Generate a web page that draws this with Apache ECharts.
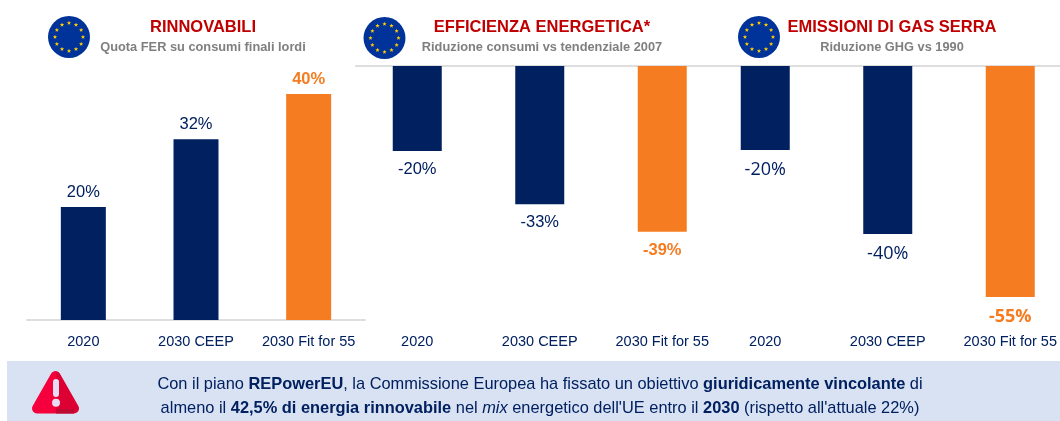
<!DOCTYPE html>
<html>
<head>
<meta charset="utf-8">
<title>Obiettivi UE 2030</title>
<script src="https://cdn.jsdelivr.net/npm/echarts@6/dist/echarts.min.js"></script>
<style>
  html, body { margin: 0; padding: 0; background: #fff; }
  #chart { width: 1060px; height: 421px; }
</style>
</head>
<body>
<div id="chart"></div>
<script>
const categories = ['2020', '2030 CEEP', '2030 Fit for 55'];
const rinnovabili = [20, 32, 40];
const rinnovabiliLabels = ['20%', '32%', '40%'];
const efficienza = [-20, -32.5, -39];
const efficienzaLabels = ['-20%', '-33%', '-39%'];
const emissioni = [-20, -40, -55];
const emissioniLabels = ['-20%', '-40%', '-55%'];

const NAVY = '#002060';
const ORANGE = '#F57C20';
const RED = '#C00000';
const GREY = '#7F7F7F';
const AXIS = '#DEDEDE';
const FONT = '"Liberation Sans", Arial, sans-serif';
const FONT_ALT = '"Open Sans", "DejaVu Sans", sans-serif';

// serie a barre di un pannello: l'ultima barra e' sempre arancione
function barSeries(values, labels, index, position, font, size, distance) {
  return {
    type: 'bar',
    xAxisIndex: index,
    yAxisIndex: index,
    barWidth: index === 0 ? 45 : 49,
    data: values.map((v, i) => {
      const last = i === values.length - 1;
      return {
        value: v,
        itemStyle: { color: last ? ORANGE : NAVY },
        label: {
          show: true,
          position: position,
          distance: distance,
          formatter: labels[i],
          fontFamily: font,
          fontSize: size,
          fontWeight: last ? 'bold' : 'normal',
          color: last ? ORANGE : NAVY
        }
      };
    })
  };
}

function labelAxis(gridIndex, margin) {
  return {
    type: 'category',
    gridIndex: gridIndex,
    data: categories,
    position: 'bottom',
    axisLine: gridIndex === 0
      ? { show: true, lineStyle: { color: AXIS, width: 2 } }
      : { show: false, onZero: false },
    axisTick: { show: false },
    axisLabel: { margin: margin, fontFamily: FONT, fontSize: 14.5, color: NAVY, interval: 0 }
  };
}

// linea dello zero in alto per i due pannelli negativi
function zeroAxis(gridIndex) {
  return {
    type: 'category',
    gridIndex: gridIndex,
    data: categories,
    position: 'top',
    axisLine: { show: true, lineStyle: { color: AXIS, width: 2 } },
    axisTick: { show: false },
    axisLabel: { show: false }
  };
}

function valueAxis(gridIndex, min, max) {
  return { type: 'value', gridIndex: gridIndex, min: min, max: max, show: false };
}

function panelTitle(text, subtext, x) {
  return {
    text: text,
    subtext: subtext,
    left: x,
    top: 19,
    textAlign: 'center',
    itemGap: 5,
    padding: 0,
    textStyle: { fontFamily: FONT, fontSize: 16.5, fontWeight: 'bold', color: RED },
    subtextStyle: { fontFamily: FONT, fontSize: 12.8, fontWeight: 'bold', color: GREY }
  };
}

function starPoints(cx, cy, r) {
  const pts = [];
  for (let i = 0; i < 10; i++) {
    const a = -Math.PI / 2 + i * Math.PI / 5;
    const rr = i % 2 === 0 ? r : r * 0.42;
    pts.push([cx + rr * Math.cos(a), cy + rr * Math.sin(a)]);
  }
  return pts;
}

function euFlag(cx, cy) {
  const items = [{
    type: 'circle',
    shape: { cx: cx, cy: cy, r: 21 },
    style: { fill: '#003399' }
  }];
  for (let i = 0; i < 12; i++) {
    const a = i * Math.PI / 6;
    items.push({
      type: 'polygon',
      shape: { points: starPoints(cx + 14 * Math.sin(a), cy - 14 * Math.cos(a), 2.3) },
      style: { fill: '#FFCC00' }
    });
  }
  return items;
}

// triangolo chiaro a sinistra e scuro a destra
const alertFill = {
  type: 'linear', x: 0, y: 0, x2: 1, y2: 0,
  colorStops: [
    { offset: 0, color: '#F5003D' },
    { offset: 0.5, color: '#F5003D' },
    { offset: 0.5, color: '#DC0033' },
    { offset: 1, color: '#DC0033' }
  ]
};

const alertIcon = [
  {
    type: 'polygon',
    shape: { points: [[55.5, 376], [37, 408.5], [74, 408.5]] },
    style: { fill: alertFill, stroke: alertFill, lineWidth: 10, lineJoin: 'round' }
  },
  {
    type: 'rect',
    shape: { x: 56, y: 409, width: 18, height: 4.5 },
    style: { fill: '#BE0A32' }
  },
  {
    type: 'rect',
    shape: { x: 53, y: 379, width: 6, height: 18, r: 3 },
    style: { fill: '#E6DDF3' }
  },
  {
    type: 'circle',
    shape: { cx: 56, cy: 402.7, r: 4 },
    style: { fill: '#E6DDF3' }
  }
];

const bannerRich = {
  r: { fontFamily: FONT, fontSize: 16.4, fill: NAVY },
  b: { fontFamily: FONT, fontSize: 16.4, fill: NAVY, fontWeight: 'bold' },
  i: { fontFamily: FONT, fontSize: 16.4, fill: NAVY, fontStyle: 'italic' }
};

function bannerLine(text, y) {
  return {
    type: 'text',
    x: 540,
    y: y,
    style: { text: text, rich: bannerRich, align: 'center', verticalAlign: 'middle' }
  };
}

const option = {
  animation: false,
  backgroundColor: '#fff',
  title: [
    panelTitle('RINNOVABILI', 'Quota FER su consumi finali lordi', 203),
    panelTitle('EFFICIENZA ENERGETICA*', 'Riduzione consumi vs tendenziale 2007', 542),
    panelTitle('EMISSIONI DI GAS SERRA', 'Riduzione GHG vs 1990', 892)
  ],
  grid: [
    { left: 27, width: 338, top: 94, height: 226 },
    { left: 356, width: 367.5, top: 66, height: 255 },
    // il terzo pannello esce dal bordo destro come nell'originale
    { left: 704, width: 367.5, top: 66, height: 252, outerBoundsMode: 'none' }
  ],
  xAxis: [
    labelAxis(0, 14),
    labelAxis(1, 13),
    labelAxis(2, 16),
    zeroAxis(1),
    zeroAxis(2)
  ],
  yAxis: [
    valueAxis(0, 0, 40),
    valueAxis(1, -60, 0),
    valueAxis(2, -60, 0)
  ],
  series: [
    barSeries(rinnovabili, rinnovabiliLabels, 0, 'top', FONT, 16.5, 6),
    barSeries(efficienza, efficienzaLabels, 1, 'bottom', FONT, 16.5, 10),
    barSeries(emissioni, emissioniLabels, 2, 'bottom', FONT_ALT, 18, 11)
  ],
  graphic: [
    { type: 'rect', shape: { x: 7, y: 361, width: 1053, height: 60 }, style: { fill: '#D9E2F3' } },
    ...euFlag(69, 37),
    ...euFlag(384.5, 38),
    ...euFlag(759, 37),
    ...alertIcon,
    bannerLine('{r|Con il piano }{b|REPowerEU}{r|, la Commissione Europea ha fissato un obiettivo }{b|giuridicamente vincolante}{r| di}', 384),
    bannerLine("{r|almeno il }{b|42,5% di energia rinnovabile}{r| nel }{i|mix}{r| energetico dell'UE entro il }{b|2030}{r| (rispetto all'attuale 22%)}", 408)
  ]
};

const myChart = echarts.init(document.getElementById('chart'), null, { renderer: 'canvas' });
myChart.setOption(option);
</script>
</body>
</html>
